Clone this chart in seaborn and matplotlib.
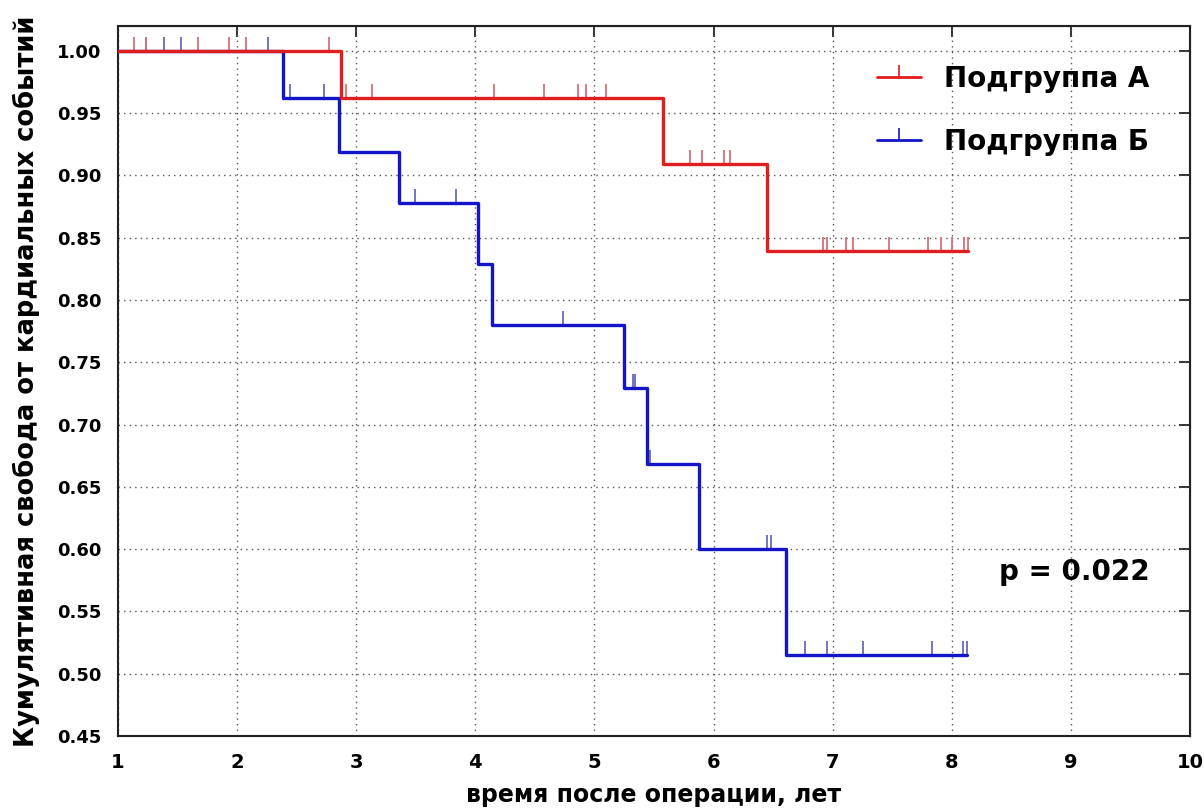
import numpy as np
import pandas as pd
import matplotlib
matplotlib.use('Agg')
import matplotlib.pyplot as plt
import seaborn as sns
from matplotlib.path import Path
from matplotlib.lines import Line2D

# Kaplan-Meier steps
time_a = [1.0, 2.876, 5.575, 6.447, 8.14]
surv_a = [1.0, 0.962, 0.909, 0.839, 0.839]
cens_a = [1.135, 1.235, 1.673, 1.934, 2.077, 2.775,
          2.91, 3.13, 4.157, 4.58, 4.86, 4.93, 5.10,
          5.805, 5.90, 6.09, 6.14,
          6.92, 6.955, 7.11, 7.17, 7.47, 7.80, 7.91, 8.00, 8.10, 8.14]

time_b = [1.0, 2.385, 2.853, 3.357, 4.022, 4.143, 5.245, 5.44, 5.878, 6.61, 8.13]
surv_b = [1.0, 0.962, 0.919, 0.878, 0.829, 0.780, 0.729, 0.668, 0.600, 0.515, 0.515]
cens_b = [1.233, 1.39, 1.53, 2.256,
          2.447, 2.733,
          3.49, 3.84,
          4.737,
          5.32, 5.337,
          5.47,
          6.45, 6.478,
          6.764, 6.95, 7.255, 7.83, 8.09, 8.13]

labels = ['Подгруппа А', 'Подгруппа Б']
p_text = 'p = 0.022'
x_ticks = list(range(1, 11))
y_ticks = [0.45, 0.50, 0.55, 0.60, 0.65, 0.70, 0.75, 0.80, 0.85, 0.90, 0.95, 1.00]

red = '#e01e1e'
blue = '#1414c8'
red_tick = '#d8707a'
blue_tick = '#6a6ab8'

sns.set_style('white')
plt.rcParams['font.family'] = ['DejaVu Sans']
plt.rcParams['text.color'] = 'black'
plt.rcParams['axes.labelcolor'] = 'black'
plt.rcParams['xtick.color'] = 'black'
plt.rcParams['ytick.color'] = 'black'


def level_at(times, surv, t):
    idx = np.searchsorted(times, t, side='right') - 1
    return np.asarray(surv)[idx]


# marker that rises from the line only
up_tick = Path([(0, 0), (0, 1)], [Path.MOVETO, Path.LINETO])

fig = plt.figure(figsize=(12.04, 8.11), dpi=100)
ax = fig.add_axes([0.098, 0.0925, 0.8904, 0.8755])

df_b = pd.DataFrame({'t': time_b, 's': surv_b})
df_a = pd.DataFrame({'t': time_a, 's': surv_a})
sns.lineplot(data=df_b, x='t', y='s', estimator=None, sort=False,
             drawstyle='steps-post', color=blue, lw=2.4, ax=ax, zorder=3)
sns.lineplot(data=df_a, x='t', y='s', estimator=None, sort=False,
             drawstyle='steps-post', color=red, lw=2.4, ax=ax, zorder=4)

ax.plot(cens_b, level_at(time_b, surv_b, cens_b), ls='none', marker=up_tick,
        ms=20, mew=1.3, color=blue_tick, zorder=2)
ax.plot(cens_a, level_at(time_a, surv_a, cens_a), ls='none', marker=up_tick,
        ms=20, mew=1.3, color=red_tick, zorder=2)

ax.set_xlim(1, 10)
ax.set_ylim(0.45, 1.02)
ax.set_xticks(x_ticks)
ax.set_yticks(y_ticks)
ax.set_xticklabels([str(v) for v in x_ticks], fontsize=14, fontweight='bold')
ax.set_yticklabels([f'{v:.2f}' for v in y_ticks], fontsize=13, fontweight='bold')
ax.grid(True, ls=(0, (1, 3)), color='#555555', lw=1)
ax.tick_params(axis='both', which='major', direction='out', length=8, width=1.3,
               color='#222222', pad=4)
for sp in ax.spines.values():
    sp.set_color('#222222')
    sp.set_linewidth(1.5)

# inward ticks on the top and right spines
top = ax.secondary_xaxis('top')
top.set_xticks(x_ticks)
top.tick_params(direction='in', length=8, width=1.3, color='#222222', labeltop=False)
right = ax.secondary_yaxis('right')
right.set_yticks(y_ticks)
right.tick_params(direction='in', length=8, width=1.3, color='#222222', labelright=False)

ax.set_xlabel('время после операции, лет', fontsize=17, fontweight='bold', labelpad=8)
ax.set_ylabel('Кумулятивная свобода от кардиальных событий', fontsize=18.5,
              fontweight='bold', labelpad=12)

ax.text(8.40, 0.582, p_text, fontsize=20, fontweight='bold', ha='left', va='center')

handles = [Line2D([], [], color=red, lw=2, marker=up_tick, ms=18, mew=1.2),
           Line2D([], [], color=blue, lw=2, marker=up_tick, ms=18, mew=1.2)]
leg = ax.legend(handles, labels, loc='upper right', frameon=False,
                prop={'size': 20, 'weight': 'bold'}, handlelength=1.6,
                labelspacing=1.25, bbox_to_anchor=(0.985, 0.98), handletextpad=0.8)

fig.savefig('out.png', dpi=100)
